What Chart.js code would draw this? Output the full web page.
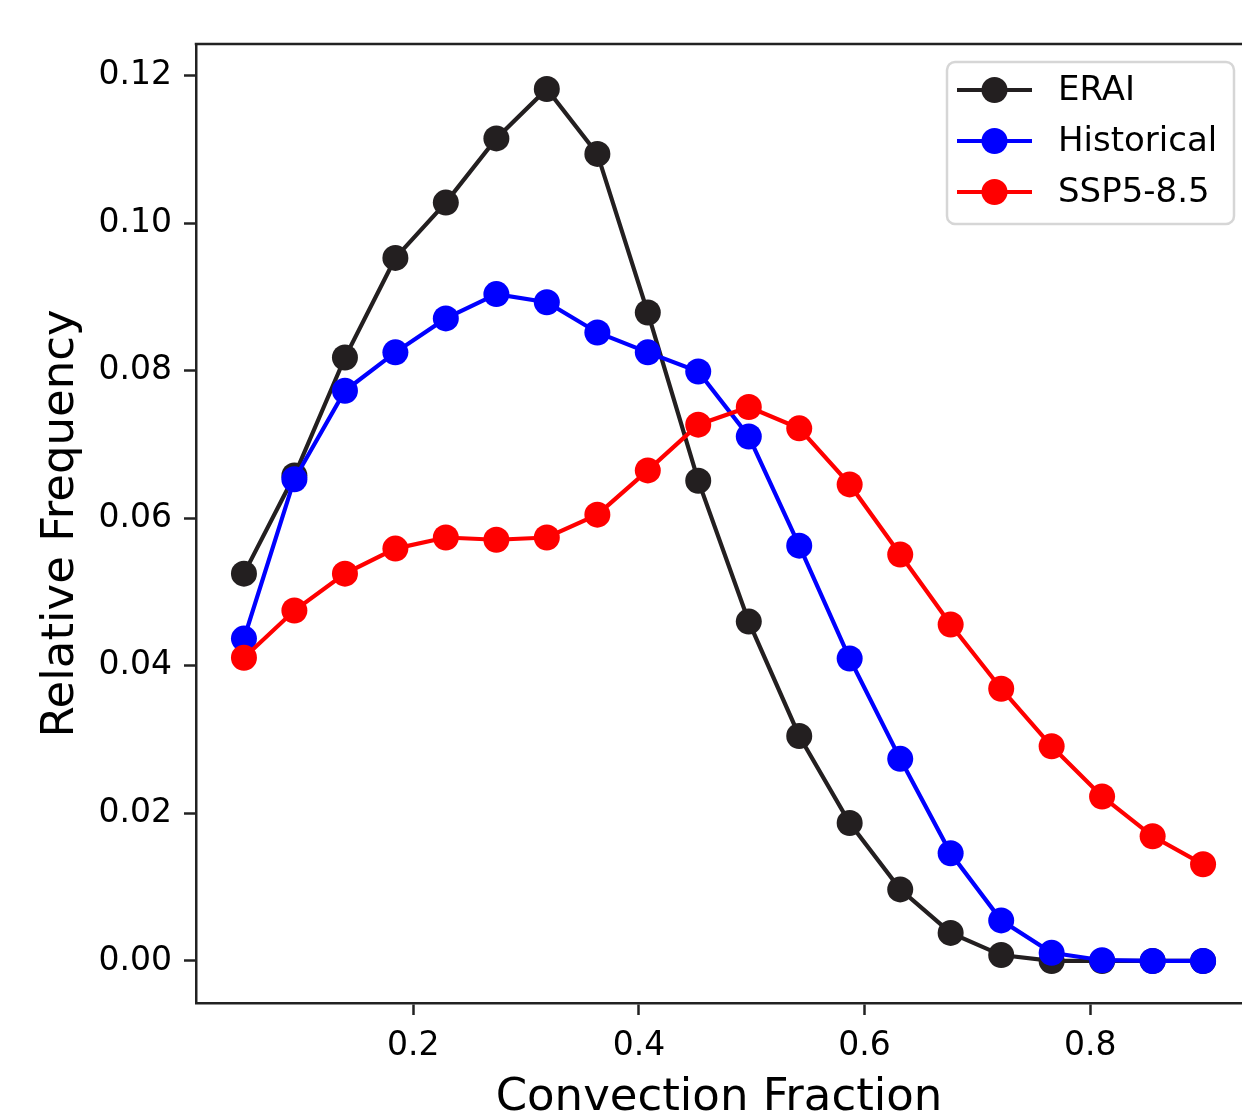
<!DOCTYPE html>
<html>
<head>
<meta charset="utf-8">
<script src="https://cdn.jsdelivr.net/npm/chart.js@4.4.0/dist/chart.umd.min.js"></script>
<style>
  body { margin: 0; background: #fff; }
  #wrap { width: 1242px; height: 1116px; }
</style>
</head>
<body>
<div id="wrap"><canvas id="freqChart"></canvas></div>
<script>
// bin centres (convection fraction)
var convFrac = [0.0500, 0.0947, 0.1395, 0.1842, 0.2289, 0.2737, 0.3184, 0.3632, 0.4079, 0.4526,
                0.4974, 0.5421, 0.5868, 0.6316, 0.6763, 0.7211, 0.7658, 0.8105, 0.8553, 0.9000];

var eraiVals = [0.0525, 0.0658, 0.0818, 0.0953, 0.1028, 0.1115, 0.1182, 0.1094, 0.0879, 0.0651,
                0.0460, 0.0305, 0.0187, 0.0097, 0.0038, 0.0008, 0.0000, 0.0000, 0.0000, 0.0000];
var histVals = [0.0437, 0.0653, 0.0773, 0.0825, 0.0871, 0.0904, 0.0893, 0.0852, 0.0825, 0.0799,
                0.0711, 0.0563, 0.0410, 0.0274, 0.0146, 0.0055, 0.0011, 0.0001, 0.0000, 0.0000];
var sspVals  = [0.0411, 0.0475, 0.0525, 0.0559, 0.0574, 0.0571, 0.0574, 0.0605, 0.0665, 0.0727,
                0.0751, 0.0722, 0.0646, 0.0551, 0.0456, 0.0369, 0.0291, 0.0223, 0.0169, 0.0131];

var xTicks = [0.2, 0.4, 0.6, 0.8];
var yTicks = [0.00, 0.02, 0.04, 0.06, 0.08, 0.10, 0.12];

var FONT = "'DejaVu Sans', 'Liberation Sans', sans-serif";
var INK = '#222222';

function pts(vals) {
  return convFrac.map(function (x, i) { return { x: x, y: vals[i] }; });
}

function series(label, vals, color, order) {
  return {
    label: label,
    data: pts(vals),
    borderColor: color,
    backgroundColor: color,
    borderWidth: 4.2,
    pointRadius: 13,
    pointHoverRadius: 13,
    pointBorderWidth: 0,
    pointBackgroundColor: color,
    tension: 0,
    order: order
  };
}

// top spine (left/bottom come from the axis borders)
var frameTop = {
  id: 'frameTop',
  afterDraw: function (chart) {
    var a = chart.chartArea, ctx = chart.ctx;
    ctx.save();
    ctx.strokeStyle = INK;
    ctx.lineWidth = 2.5;
    ctx.beginPath();
    ctx.moveTo(a.left - 1.25, a.top);
    ctx.lineTo(a.right + 2, a.top);
    ctx.stroke();
    ctx.restore();
  }
};

// matplotlib style legend box, upper right
var boxLegend = {
  id: 'boxLegend',
  afterDraw: function (chart) {
    var ctx = chart.ctx;
    var x0 = 947, y0 = 62, w = 287, h = 162, r = 8;
    ctx.save();
    ctx.beginPath();
    ctx.moveTo(x0 + r, y0);
    ctx.arcTo(x0 + w, y0, x0 + w, y0 + h, r);
    ctx.arcTo(x0 + w, y0 + h, x0, y0 + h, r);
    ctx.arcTo(x0, y0 + h, x0, y0, r);
    ctx.arcTo(x0, y0, x0 + w, y0, r);
    ctx.closePath();
    ctx.fillStyle = 'rgba(255,255,255,0.85)';
    ctx.fill();
    ctx.strokeStyle = '#d6d6d6';
    ctx.lineWidth = 2.5;
    ctx.stroke();

    var rows = [90, 141, 192];
    chart.data.datasets.forEach(function (ds, i) {
      var y = rows[i];
      ctx.strokeStyle = ds.borderColor;
      ctx.lineWidth = 4.2;
      ctx.beginPath();
      ctx.moveTo(957, y);
      ctx.lineTo(1032, y);
      ctx.stroke();
      ctx.fillStyle = ds.borderColor;
      ctx.beginPath();
      ctx.arc(994.5, y, 13, 0, Math.PI * 2);
      ctx.fill();
      ctx.fillStyle = '#000';
      ctx.font = '34px ' + FONT;
      ctx.textAlign = 'left';
      ctx.textBaseline = 'middle';
      ctx.fillText(ds.label, 1058, y + 1);
    });
    ctx.restore();
  }
};

var ctx = document.getElementById('freqChart').getContext('2d');
var freqChart = new Chart(ctx, {
  type: 'line',
  data: {
    datasets: [
      series('ERAI', eraiVals, '#231f20', 2),
      series('Historical', histVals, '#0000ff', 1),
      series('SSP5-8.5', sspVals, '#ff0000', 0)
    ]
  },
  options: {
    responsive: true,
    maintainAspectRatio: false,
    animation: false,
    layout: { autoPadding: false, padding: { left: 0, top: 44, right: 0, bottom: 0 } },
    plugins: {
      legend: { display: false },
      tooltip: { enabled: false }
    },
    scales: {
      x: {
        type: 'linear',
        min: 0.0075,
        max: 0.9345,
        afterBuildTicks: function (scale) {
          scale.ticks = xTicks.map(function (v) { return { value: v }; });
        },
        afterFit: function (scale) { scale.height = 113; },
        ticks: {
          color: '#000',
          font: { family: FONT, size: 33 },
          padding: 12,
          maxRotation: 0,
          callback: function (v) { return v.toFixed(1); }
        },
        grid: {
          drawOnChartArea: false,
          drawTicks: true,
          tickLength: 12,
          tickColor: INK,
          tickWidth: 2.5
        },
        border: { display: true, color: INK, width: 2.5 },
        title: {
          display: true,
          text: 'Convection Fraction',
          color: '#000',
          font: { family: FONT, size: 45, lineHeight: 0.77 },
          padding: { top: 0, bottom: 0 }
        }
      },
      y: {
        min: -0.0057,
        max: 0.1243,
        afterBuildTicks: function (scale) {
          scale.ticks = yTicks.map(function (v) { return { value: v }; });
        },
        afterFit: function (scale) { scale.width = 196; },
        ticks: {
          color: '#000',
          font: { family: FONT, size: 33 },
          padding: 12,
          callback: function (v) { return v.toFixed(2); }
        },
        grid: {
          drawOnChartArea: false,
          drawTicks: true,
          tickLength: 12,
          tickColor: INK,
          tickWidth: 2.5
        },
        border: { display: true, color: INK, width: 2.5 },
        title: {
          display: true,
          text: 'Relative Frequency',
          color: '#000',
          font: { family: FONT, size: 45, lineHeight: 1.0 },
          padding: { top: 39, bottom: 0 }
        }
      }
    }
  },
  plugins: [frameTop, boxLegend]
});
</script>
</body>
</html>
